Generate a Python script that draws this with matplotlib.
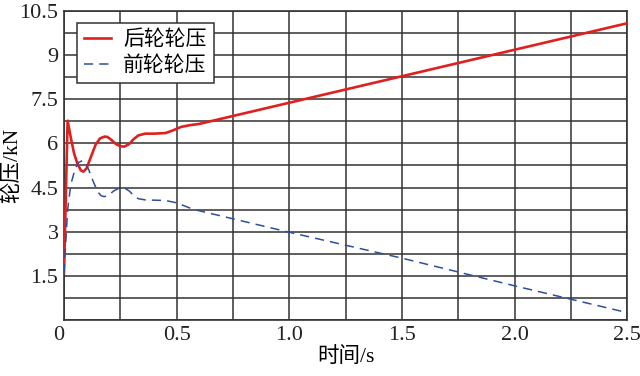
import numpy as np
import matplotlib
matplotlib.use("Agg")
import matplotlib.pyplot as plt

plt.rcParams['font.family'] = ['Liberation Serif', 'Noto Sans CJK SC']
plt.rcParams['axes.unicode_minus'] = False

# rear wheel load (kN) vs time (s)
rear_t = [0, 0.016, 0.03, 0.045, 0.06, 0.075, 0.086, 0.1, 0.12, 0.14, 0.16, 0.18, 0.192,
          0.21, 0.23, 0.25, 0.268, 0.29, 0.31, 0.33, 0.36, 0.40, 0.45, 0.48, 0.52, 0.56, 0.6, 2.5]
rear_v = [1.6, 6.77, 6.2, 5.65, 5.3, 5.08, 5.04, 5.15, 5.55, 5.95, 6.17, 6.23, 6.22,
          6.12, 5.98, 5.9, 5.89, 5.98, 6.15, 6.27, 6.33, 6.33, 6.35, 6.43, 6.56, 6.62, 6.66, 10.08]

# front wheel load (kN) vs time (s)
front_t = [0, 0.016, 0.03, 0.05, 0.065, 0.081, 0.095, 0.11, 0.13, 0.15, 0.165, 0.179, 0.2,
           0.22, 0.245, 0.271, 0.29, 0.31, 0.33, 0.36, 0.40, 0.45, 0.5, 0.573, 1.0, 1.5, 2.0, 2.5]
front_v = [1.6, 3.74, 4.6, 5.15, 5.35, 5.41, 5.35, 5.1, 4.7, 4.35, 4.22, 4.19, 4.25,
           4.38, 4.48, 4.47, 4.38, 4.22, 4.12, 4.08, 4.07, 4.06, 3.98, 3.76, 2.98, 2.10, 1.16, 0.25]

x_ticks = [0, 0.5, 1.0, 1.5, 2.0, 2.5]
x_labels = ["0", "0.5", "1.0", "1.5", "2.0", "2.5"]
y_ticks = [1.5, 3, 4.5, 6, 7.5, 9, 10.5]
y_labels = ["1.5", "3", "4.5", "6", "7.5", "9", "10.5"]

fig = plt.figure(figsize=(6.4, 3.76), dpi=100)
ax = fig.add_axes([0.1, 0.149, 0.88, 0.822])

ax.plot(rear_t, rear_v, color="#e01f1f", lw=1.9, label="后轮轮压", zorder=3)
ax.plot(front_t, front_v, color="#2c4f9e", lw=1.1, ls=(0, (6, 4)), label="前轮轮压", zorder=3)

ax.set_xlim(0, 2.5)
ax.set_ylim(0, 10.5)
ax.set_xticks(x_ticks)
ax.set_xticklabels(x_labels)
ax.set_yticks(y_ticks)
ax.set_yticklabels(y_labels)
ax.set_xticks(np.arange(0, 2.51, 0.25), minor=True)
ax.set_yticks(np.arange(0, 10.51, 0.75), minor=True)
ax.grid(True, which="both", color="#333333", lw=1.1)
ax.tick_params(which="both", length=0, labelsize=16, colors="#222222", pad=4)
ax.get_xticklabels()[0].set_horizontalalignment("right")
for s in ax.spines.values():
    s.set_color("#333333")
    s.set_linewidth(1.2)

ax.set_xlabel("时间/s", fontsize=15.5, labelpad=2)
ax.set_ylabel("轮压/kN", fontsize=15.5)
ax.yaxis.set_label_coords(-0.075, 0.5)

leg = ax.legend(loc="upper left", fontsize=15, fancybox=False, framealpha=1,
                edgecolor="#333333", borderpad=0.35, handlelength=1.3,
                handletextpad=0.6, labelspacing=0.3, borderaxespad=0.6)
leg.get_frame().set_linewidth(1.1)

fig.savefig("out.png", dpi=100)
